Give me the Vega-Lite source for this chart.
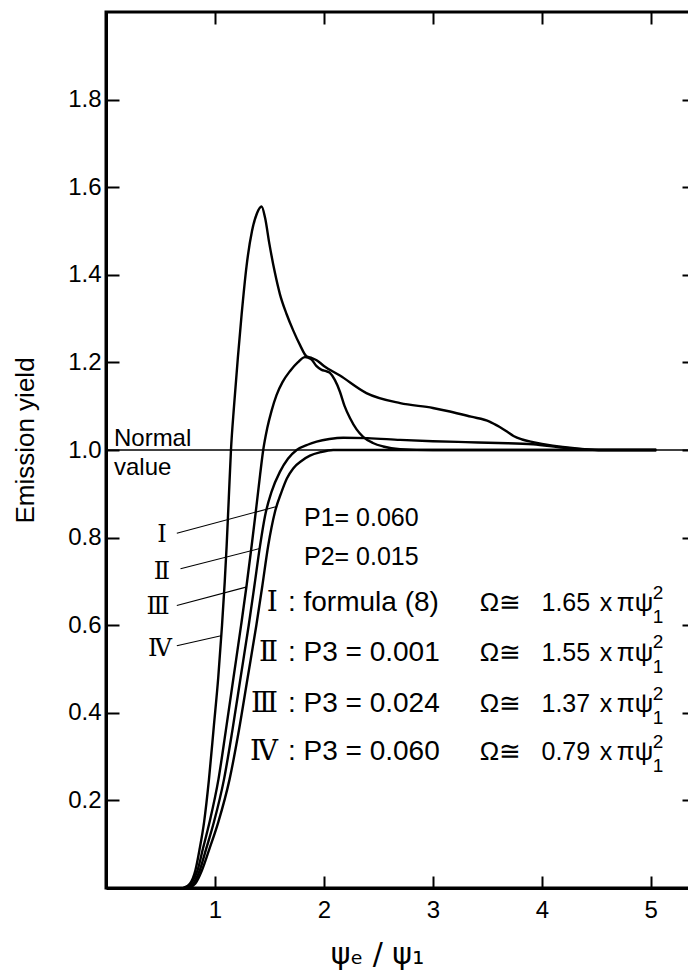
{
  "$schema": "https://vega.github.io/schema/vega-lite/v6.json",
  "width": 584,
  "height": 876,
  "autosize": {"type": "none"},
  "padding": {"left": 106, "top": 12, "right": 0, "bottom": 85},
  "background": "white",
  "config": {
    "view": {"stroke": "black", "strokeWidth": 3},
    "font": "Liberation Sans",
    "axis": {"grid": false, "labelColor": "black", "titleColor": "black", "domainColor": "black", "tickColor": "black", "titleFontWeight": "normal", "labelFont": "Liberation Sans", "titleFont": "Liberation Sans"}
  },
  "datasets": {
    "curves": [
      {"c":"IV","x":0.71,"y":0},{"c":"IV","x":0.77,"y":0.01},{"c":"IV","x":0.82,"y":0.04},{"c":"IV","x":0.86,"y":0.09},{"c":"IV","x":0.9,"y":0.15},{"c":"IV","x":0.945,"y":0.248},{"c":"IV","x":0.99,"y":0.37},{"c":"IV","x":1.03,"y":0.48},{"c":"IV","x":1.065,"y":0.6},{"c":"IV","x":1.09,"y":0.7},{"c":"IV","x":1.107,"y":0.78},{"c":"IV","x":1.127,"y":0.89},{"c":"IV","x":1.147,"y":1.0},{"c":"IV","x":1.175,"y":1.1},{"c":"IV","x":1.21,"y":1.21},{"c":"IV","x":1.245,"y":1.31},{"c":"IV","x":1.29,"y":1.42},{"c":"IV","x":1.34,"y":1.5},{"c":"IV","x":1.385,"y":1.54},{"c":"IV","x":1.428,"y":1.556},{"c":"IV","x":1.46,"y":1.53},{"c":"IV","x":1.5,"y":1.47},{"c":"IV","x":1.55,"y":1.405},{"c":"IV","x":1.596,"y":1.356},{"c":"IV","x":1.658,"y":1.31},{"c":"IV","x":1.72,"y":1.272},{"c":"IV","x":1.78,"y":1.24},{"c":"IV","x":1.84,"y":1.214},{"c":"IV","x":1.89,"y":1.21},{"c":"IV","x":1.933,"y":1.205},{"c":"IV","x":2.0,"y":1.192},{"c":"IV","x":2.147,"y":1.17},{"c":"IV","x":2.39,"y":1.13},{"c":"IV","x":2.7,"y":1.107},{"c":"IV","x":3.0,"y":1.096},{"c":"IV","x":3.156,"y":1.088},{"c":"IV","x":3.35,"y":1.076},{"c":"IV","x":3.52,"y":1.065},{"c":"IV","x":3.61,"y":1.053},{"c":"IV","x":3.68,"y":1.042},{"c":"IV","x":3.74,"y":1.032},{"c":"IV","x":3.82,"y":1.024},{"c":"IV","x":3.92,"y":1.018},{"c":"IV","x":4.1,"y":1.01},{"c":"IV","x":4.3,"y":1.004},{"c":"IV","x":4.52,"y":1.0},{"c":"IV","x":5.05,"y":1.0},
      {"c":"III","x":0.72,"y":0},{"c":"III","x":0.78,"y":0.01},{"c":"III","x":0.84,"y":0.04},{"c":"III","x":0.89,"y":0.09},{"c":"III","x":0.95,"y":0.15},{"c":"III","x":1.032,"y":0.248},{"c":"III","x":1.1,"y":0.36},{"c":"III","x":1.17,"y":0.48},{"c":"III","x":1.24,"y":0.6},{"c":"III","x":1.29,"y":0.69},{"c":"III","x":1.337,"y":0.782},{"c":"III","x":1.38,"y":0.87},{"c":"III","x":1.415,"y":0.945},{"c":"III","x":1.443,"y":1.0},{"c":"III","x":1.48,"y":1.05},{"c":"III","x":1.52,"y":1.09},{"c":"III","x":1.566,"y":1.126},{"c":"III","x":1.62,"y":1.155},{"c":"III","x":1.688,"y":1.18},{"c":"III","x":1.76,"y":1.2},{"c":"III","x":1.826,"y":1.212},{"c":"III","x":1.88,"y":1.208},{"c":"III","x":1.93,"y":1.192},{"c":"III","x":1.979,"y":1.183},{"c":"III","x":2.02,"y":1.18},{"c":"III","x":2.055,"y":1.176},{"c":"III","x":2.1,"y":1.16},{"c":"III","x":2.147,"y":1.133},{"c":"III","x":2.19,"y":1.1},{"c":"III","x":2.239,"y":1.073},{"c":"III","x":2.3,"y":1.047},{"c":"III","x":2.36,"y":1.03},{"c":"III","x":2.45,"y":1.016},{"c":"III","x":2.544,"y":1.008},{"c":"III","x":2.7,"y":1.002},{"c":"III","x":3.0,"y":1.0},{"c":"III","x":5.05,"y":1.0},
      {"c":"II","x":0.74,"y":0},{"c":"II","x":0.8,"y":0.01},{"c":"II","x":0.86,"y":0.04},{"c":"II","x":0.92,"y":0.09},{"c":"II","x":0.99,"y":0.15},{"c":"II","x":1.083,"y":0.248},{"c":"II","x":1.16,"y":0.36},{"c":"II","x":1.235,"y":0.48},{"c":"II","x":1.31,"y":0.6},{"c":"II","x":1.362,"y":0.69},{"c":"II","x":1.413,"y":0.78},{"c":"II","x":1.46,"y":0.85},{"c":"II","x":1.52,"y":0.905},{"c":"II","x":1.596,"y":0.95},{"c":"II","x":1.67,"y":0.98},{"c":"II","x":1.75,"y":1.0},{"c":"II","x":1.85,"y":1.012},{"c":"II","x":1.933,"y":1.019},{"c":"II","x":2.05,"y":1.025},{"c":"II","x":2.177,"y":1.028},{"c":"II","x":2.4,"y":1.027},{"c":"II","x":2.7,"y":1.023},{"c":"II","x":3.0,"y":1.02},{"c":"II","x":3.3,"y":1.018},{"c":"II","x":3.6,"y":1.016},{"c":"II","x":3.92,"y":1.013},{"c":"II","x":4.2,"y":1.005},{"c":"II","x":4.52,"y":1.0},{"c":"II","x":5.05,"y":1.0},
      {"c":"I","x":0.76,"y":0},{"c":"I","x":0.82,"y":0.01},{"c":"I","x":0.88,"y":0.04},{"c":"I","x":0.95,"y":0.09},{"c":"I","x":1.03,"y":0.15},{"c":"I","x":1.134,"y":0.248},{"c":"I","x":1.22,"y":0.36},{"c":"I","x":1.3,"y":0.48},{"c":"I","x":1.38,"y":0.6},{"c":"I","x":1.435,"y":0.69},{"c":"I","x":1.489,"y":0.782},{"c":"I","x":1.55,"y":0.858},{"c":"I","x":1.612,"y":0.905},{"c":"I","x":1.66,"y":0.935},{"c":"I","x":1.718,"y":0.958},{"c":"I","x":1.8,"y":0.976},{"c":"I","x":1.872,"y":0.987},{"c":"I","x":1.97,"y":0.995},{"c":"I","x":2.085,"y":1.0},{"c":"I","x":2.5,"y":1.0},{"c":"I","x":5.05,"y":1.0}
    ],
    "normal": [{"x": 0, "x2": 5.36, "y": 1.0}],
    "leaders": [
      {"c":"I","x":0.65,"y":0.81,"x2":1.567,"y2":0.871},
      {"c":"II","x":0.684,"y":0.729,"x2":1.41,"y2":0.775},
      {"c":"III","x":0.65,"y":0.645,"x2":1.285,"y2":0.687},
      {"c":"IV","x":0.65,"y":0.553,"x2":1.056,"y2":0.576}
    ],
    "texts": [
      {"k":"normal","x":0.073,"y":1.026,"t":"Normal"},
      {"k":"normal","x":0.073,"y":0.959,"t":"value"},
      {"k":"rl","x":0.513,"y":0.806,"t":"Ⅰ"},
      {"k":"rl","x":0.513,"y":0.722,"t":"Ⅱ"},
      {"k":"rl","x":0.477,"y":0.641,"t":"Ⅲ"},
      {"k":"rl","x":0.495,"y":0.546,"t":"Ⅳ"},
      {"k":"p","x":1.817,"y":0.844,"t":"P1= 0.060"},
      {"k":"p","x":1.817,"y":0.756,"t":"P2= 0.015"},
      {"k":"rr","x":1.578,"y":0.65,"t":"Ⅰ"},
      {"k":"rr","x":1.578,"y":0.537,"t":"Ⅱ"},
      {"k":"rr","x":1.578,"y":0.42,"t":"Ⅲ"},
      {"k":"rr","x":1.578,"y":0.31,"t":"Ⅳ"},
      {"k":"row","x":1.67,"y":0.65,"t":": formula (8)"},
      {"k":"row","x":1.67,"y":0.537,"t":": P3 = 0.001"},
      {"k":"row","x":1.67,"y":0.42,"t":": P3 = 0.024"},
      {"k":"row","x":1.67,"y":0.31,"t":": P3 = 0.060"},
      {"k":"om","x":3.43,"y":0.65,"t":"Ω≅"},
      {"k":"om","x":3.43,"y":0.537,"t":"Ω≅"},
      {"k":"om","x":3.43,"y":0.42,"t":"Ω≅"},
      {"k":"om","x":3.43,"y":0.31,"t":"Ω≅"},
      {"k":"num","x":3.997,"y":0.65,"t":"1.65"},
      {"k":"num","x":3.997,"y":0.537,"t":"1.55"},
      {"k":"num","x":3.997,"y":0.42,"t":"1.37"},
      {"k":"num","x":3.997,"y":0.31,"t":"0.79"},
      {"k":"num","x":4.532,"y":0.65,"t":"x"},
      {"k":"num","x":4.532,"y":0.537,"t":"x"},
      {"k":"num","x":4.532,"y":0.42,"t":"x"},
      {"k":"num","x":4.532,"y":0.31,"t":"x"},
      {"k":"om","x":4.688,"y":0.65,"t":"πψ"},
      {"k":"om","x":4.688,"y":0.537,"t":"πψ"},
      {"k":"om","x":4.688,"y":0.42,"t":"πψ"},
      {"k":"om","x":4.688,"y":0.31,"t":"πψ"},
      {"k":"ss","x":5.018,"y":0.674,"t":"2"},
      {"k":"ss","x":5.018,"y":0.618,"t":"1"},
      {"k":"ss","x":5.018,"y":0.561,"t":"2"},
      {"k":"ss","x":5.018,"y":0.505,"t":"1"},
      {"k":"ss","x":5.018,"y":0.444,"t":"2"},
      {"k":"ss","x":5.018,"y":0.388,"t":"1"},
      {"k":"ss","x":5.018,"y":0.334,"t":"2"},
      {"k":"ss","x":5.018,"y":0.278,"t":"1"}
    ]
  },
  "layer": [
    {
      "data": {"name": "normal"},
      "mark": {"type": "rule", "color": "black", "strokeWidth": 1.4},
      "encoding": {
        "x": {"field": "x", "type": "quantitative", "scale": {"domain": [0, 5.36], "nice": false, "zero": false}, "axis": null},
        "x2": {"field": "x2"},
        "y": {"field": "y", "type": "quantitative", "scale": {"domain": [0, 2], "nice": false, "zero": false}, "axis": null}
      }
    },
    {
      "data": {"name": "curves"},
      "mark": {"type": "line", "color": "black", "strokeWidth": 2.4, "interpolate": "monotone"},
      "encoding": {
        "x": {"field": "x", "type": "quantitative", "scale": {"domain": [0, 5.36], "nice": false, "zero": false},
          "axis": {"orient": "bottom", "values": [1, 2, 3, 4, 5], "ticks": false, "domainWidth": 3, "labelFontSize": 24, "labelPadding": 10,
            "title": "ψₑ / ψ₁", "titleFont": "DejaVu Sans", "titleFontSize": 30, "titleX": 271, "titleY": 66, "titleAlign": "center", "titleBaseline": "middle"}},
        "y": {"field": "y", "type": "quantitative", "scale": {"domain": [0, 2], "nice": false, "zero": false},
          "axis": {"orient": "left", "values": [0.2, 0.4, 0.6, 0.8, 1.0, 1.2, 1.4, 1.6, 1.8], "format": ".1f", "ticks": false, "domainWidth": 3, "labelFontSize": 24, "labelPadding": 5,
            "title": "Emission yield", "titleFontSize": 26, "titleX": -81, "titleY": 428, "titleAngle": 270, "titleAlign": "center", "titleBaseline": "middle"}},
        "detail": {"field": "c"}
      }
    },
    {
      "data": {"name": "leaders"},
      "mark": {"type": "rule", "color": "black", "strokeWidth": 1.1},
      "encoding": {
        "x": {"field": "x", "type": "quantitative", "axis": null},
        "y": {"field": "y", "type": "quantitative", "axis": null},
        "x2": {"field": "x2"},
        "y2": {"field": "y2"}
      }
    },
    {
      "data": {"name": "texts"},
      "transform": [{"filter": "datum.k === 'normal'"}],
      "mark": {"type": "text", "align": "left", "baseline": "middle", "fontSize": 24, "color": "black"},
      "encoding": {"x": {"field": "x", "type": "quantitative", "axis": null}, "y": {"field": "y", "type": "quantitative", "axis": null}, "text": {"field": "t"}}
    },
    {
      "data": {"name": "texts"},
      "transform": [{"filter": "datum.k === 'rl'"}],
      "mark": {"type": "text", "align": "center", "baseline": "middle", "fontSize": 24, "font": "DejaVu Serif", "color": "black"},
      "encoding": {"x": {"field": "x", "type": "quantitative", "axis": null}, "y": {"field": "y", "type": "quantitative", "axis": null}, "text": {"field": "t"}}
    },
    {
      "data": {"name": "texts"},
      "transform": [{"filter": "datum.k === 'rr'"}],
      "mark": {"type": "text", "align": "right", "baseline": "middle", "fontSize": 28, "font": "DejaVu Serif", "color": "black"},
      "encoding": {"x": {"field": "x", "type": "quantitative", "axis": null}, "y": {"field": "y", "type": "quantitative", "axis": null}, "text": {"field": "t"}}
    },
    {
      "data": {"name": "texts"},
      "transform": [{"filter": "datum.k === 'p'"}],
      "mark": {"type": "text", "align": "left", "baseline": "middle", "fontSize": 25, "color": "black"},
      "encoding": {"x": {"field": "x", "type": "quantitative", "axis": null}, "y": {"field": "y", "type": "quantitative", "axis": null}, "text": {"field": "t"}}
    },
    {
      "data": {"name": "texts"},
      "transform": [{"filter": "datum.k === 'row'"}],
      "mark": {"type": "text", "align": "left", "baseline": "middle", "fontSize": 28, "color": "black"},
      "encoding": {"x": {"field": "x", "type": "quantitative", "axis": null}, "y": {"field": "y", "type": "quantitative", "axis": null}, "text": {"field": "t"}}
    },
    {
      "data": {"name": "texts"},
      "transform": [{"filter": "datum.k === 'om'"}],
      "mark": {"type": "text", "align": "left", "baseline": "middle", "fontSize": 26, "color": "black"},
      "encoding": {"x": {"field": "x", "type": "quantitative", "axis": null}, "y": {"field": "y", "type": "quantitative", "axis": null}, "text": {"field": "t"}}
    },
    {
      "data": {"name": "texts"},
      "transform": [{"filter": "datum.k === 'num'"}],
      "mark": {"type": "text", "align": "left", "baseline": "middle", "fontSize": 25, "color": "black"},
      "encoding": {"x": {"field": "x", "type": "quantitative", "axis": null}, "y": {"field": "y", "type": "quantitative", "axis": null}, "text": {"field": "t"}}
    },
    {
      "data": {"name": "texts"},
      "transform": [{"filter": "datum.k === 'ss'"}],
      "mark": {"type": "text", "align": "left", "baseline": "middle", "fontSize": 19, "color": "black"},
      "encoding": {"x": {"field": "x", "type": "quantitative", "axis": null}, "y": {"field": "y", "type": "quantitative", "axis": null}, "text": {"field": "t"}}
    },
    {
      "data": {"name": "normal"},
      "mark": {"type": "point", "opacity": 0},
      "encoding": {
        "x": {"field": "x", "type": "quantitative", "axis": {"orient": "bottom", "values": [1, 2, 3, 4, 5], "labels": false, "domain": false, "tickSize": -12, "tickWidth": 2, "title": null}},
        "y": {"field": "y", "type": "quantitative", "axis": null}
      }
    },
    {
      "data": {"name": "normal"},
      "mark": {"type": "point", "opacity": 0},
      "encoding": {
        "x": {"field": "x", "type": "quantitative", "axis": {"orient": "top", "values": [1, 2, 3, 4, 5], "labels": false, "domain": false, "tickSize": -12, "tickWidth": 2, "title": null}},
        "y": {"field": "y", "type": "quantitative", "axis": null}
      }
    },
    {
      "data": {"name": "normal"},
      "mark": {"type": "point", "opacity": 0},
      "encoding": {
        "x": {"field": "x", "type": "quantitative", "axis": null},
        "y": {"field": "y", "type": "quantitative", "axis": {"orient": "left", "values": [0.2, 0.4, 0.6, 0.8, 1.0, 1.2, 1.4, 1.6, 1.8], "labels": false, "domain": false, "tickSize": -13, "tickWidth": 2, "title": null}}
      }
    },
    {
      "data": {"name": "normal"},
      "mark": {"type": "point", "opacity": 0},
      "encoding": {
        "x": {"field": "x", "type": "quantitative", "axis": null},
        "y": {"field": "y", "type": "quantitative", "axis": {"orient": "right", "values": [0.2, 0.4, 0.6, 0.8, 1.0, 1.2, 1.4, 1.6, 1.8], "labels": false, "domain": false, "tickSize": -8, "tickWidth": 2, "title": null}}
      }
    }
  ],
  "resolve": {"axis": {"x": "independent", "y": "independent"}}
}
